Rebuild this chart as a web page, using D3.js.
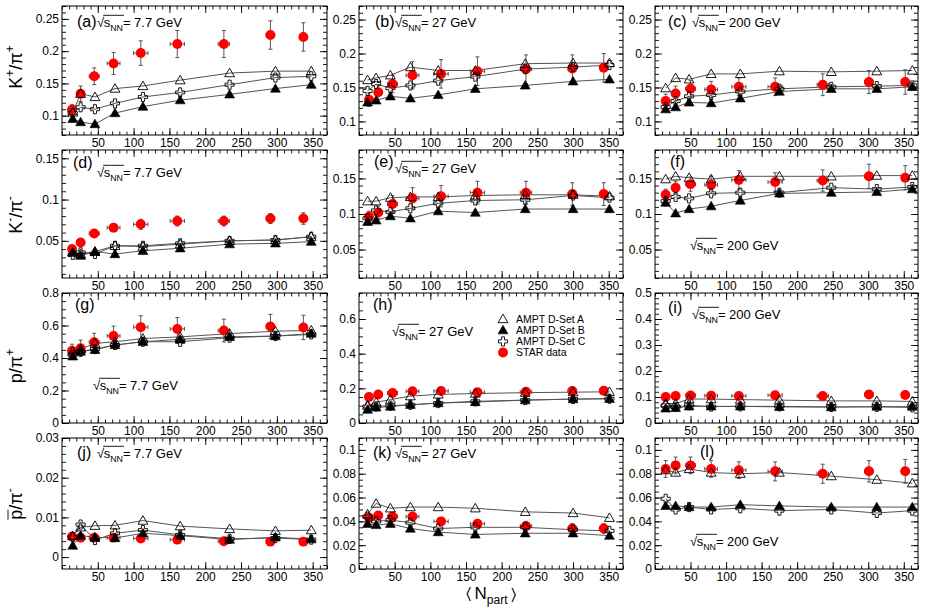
<!DOCTYPE html>
<html><head><meta charset="utf-8">
<script src="https://cdnjs.cloudflare.com/ajax/libs/d3/7.8.5/d3.min.js"></script>
<style>
body{margin:0;background:#fff}
svg{display:block}
text{font-family:"Liberation Sans",Arial,Helvetica,sans-serif}
</style>
</head><body>
<svg id="c" width="926" height="608"></svg>
<script>
// ---------------- DATA ----------------
const energies = ["7.7", "27", "200"];
const npartStar77 = [14, 26, 45, 72, 110, 161, 226, 291, 337];
const npartStar27 = [14, 27, 47, 75, 115, 166, 234, 299, 343];
const npartStar200 = [15, 29, 50, 79, 118, 169, 236, 301, 352];
const npartErr = [3, 5, 7, 9, 10, 10, 8, 6, 2];
const npartAmpt77 = [15, 26, 46, 74, 113, 165, 234, 298, 348];
const npartAmpt27 = [12, 24, 44, 72, 111, 163, 233, 300, 351];
const npartAmpt200 = [15, 29, 48, 79, 120, 175, 248, 312, 362];

const xTickLabels = [50, 100, 150, 200, 250, 300, 350];

// K+/pi+
const a_star = [0.109, 0.134, 0.161, 0.181, 0.197, 0.211, 0.211, 0.225, 0.222];
const a_err  = [0.008, 0.012, 0.013, 0.017, 0.019, 0.021, 0.021, 0.022, 0.022];
const a_A = [0.105, 0.134, 0.129, 0.142, 0.146, 0.155, 0.166, 0.169, 0.169];
const a_B = [0.095, 0.090, 0.087, 0.104, 0.114, 0.124, 0.133, 0.142, 0.148];
const a_C = [0.104, 0.113, 0.110, 0.119, 0.129, 0.136, 0.148, 0.159, 0.161];
const b_star = [0.132, 0.143, 0.155, 0.168, 0.170, 0.174, 0.177, 0.178, 0.179];
const b_err  = [0.010, 0.011, 0.013, 0.020, 0.021, 0.021, 0.021, 0.020, 0.021];
const b_A = [0.161, 0.164, 0.168, 0.180, 0.175, 0.175, 0.185, 0.186, 0.186];
const b_B = [0.128, 0.131, 0.137, 0.134, 0.139, 0.148, 0.153, 0.159, 0.162];
const b_C = [0.145, 0.155, 0.149, 0.153, 0.160, 0.166, 0.177, 0.180, 0.183];
const c_star = [0.130, 0.141, 0.148, 0.147, 0.151, 0.151, 0.154, 0.158, 0.158];
const c_err  = [0.010, 0.011, 0.012, 0.012, 0.013, 0.013, 0.016, 0.017, 0.018];
const c_A = [0.149, 0.164, 0.162, 0.170, 0.170, 0.174, 0.173, 0.174, 0.175];
const c_B = [0.118, 0.121, 0.128, 0.127, 0.134, 0.144, 0.148, 0.148, 0.151];
const c_C = [0.121, 0.130, 0.137, 0.139, 0.144, 0.148, 0.151, 0.152, 0.153];
// K-/pi-
const d_star = [0.040, 0.048, 0.059, 0.066, 0.070, 0.074, 0.074, 0.077, 0.077];
const d_err  = [0.003, 0.004, 0.004, 0.005, 0.006, 0.006, 0.006, 0.006, 0.007];
const d_A = [0.036, 0.034, 0.037, 0.044, 0.043, 0.046, 0.050, 0.051, 0.055];
const d_B = [0.036, 0.032, 0.037, 0.034, 0.038, 0.041, 0.046, 0.047, 0.049];
const d_C = [0.033, 0.036, 0.034, 0.044, 0.044, 0.047, 0.050, 0.051, 0.055];
const e_star = [0.096, 0.102, 0.114, 0.122, 0.125, 0.130, 0.130, 0.128, 0.128];
const e_err  = [0.008, 0.009, 0.012, 0.015, 0.015, 0.016, 0.016, 0.016, 0.016];
const e_A = [0.118, 0.118, 0.123, 0.124, 0.124, 0.126, 0.127, 0.127, 0.125];
const e_B = [0.089, 0.091, 0.097, 0.094, 0.104, 0.102, 0.107, 0.107, 0.107];
const e_C = [0.094, 0.105, 0.103, 0.108, 0.115, 0.119, 0.120, 0.126, 0.123];
const f_star = [0.127, 0.137, 0.142, 0.141, 0.148, 0.145, 0.147, 0.153, 0.151];
const f_err  = [0.008, 0.009, 0.010, 0.012, 0.013, 0.013, 0.015, 0.017, 0.017];
const f_A = [0.149, 0.153, 0.151, 0.149, 0.153, 0.153, 0.153, 0.154, 0.154];
const f_B = [0.116, 0.101, 0.107, 0.111, 0.119, 0.129, 0.130, 0.131, 0.135];
const f_C = [0.118, 0.124, 0.122, 0.129, 0.130, 0.130, 0.137, 0.135, 0.138];
// p/pi+
const g_star = [0.445, 0.460, 0.497, 0.536, 0.590, 0.579, 0.569, 0.594, 0.588];
const g_err  = [0.040, 0.050, 0.055, 0.060, 0.070, 0.070, 0.070, 0.075, 0.075];
const g_A = [0.440, 0.455, 0.490, 0.500, 0.520, 0.530, 0.550, 0.565, 0.570];
const g_B = [0.410, 0.440, 0.450, 0.480, 0.500, 0.515, 0.530, 0.535, 0.550];
const g_C = [0.420, 0.440, 0.455, 0.480, 0.500, 0.500, 0.525, 0.535, 0.545];
const h_star = [0.150, 0.165, 0.173, 0.183, 0.185, 0.177, 0.180, 0.185, 0.186];
const h_err  = [0.010, 0.010, 0.011, 0.012, 0.012, 0.012, 0.013, 0.013, 0.013];
const h_A = [0.100, 0.120, 0.135, 0.155, 0.165, 0.170, 0.175, 0.178, 0.180];
const h_B = [0.077, 0.090, 0.095, 0.105, 0.115, 0.121, 0.132, 0.138, 0.140];
const h_C = [0.095, 0.095, 0.100, 0.105, 0.115, 0.125, 0.132, 0.138, 0.140];
const i_star = [0.100, 0.104, 0.106, 0.105, 0.104, 0.107, 0.104, 0.110, 0.108];
const i_err  = [0.004, 0.004, 0.004, 0.004, 0.004, 0.004, 0.004, 0.004, 0.004];
const i_A = [0.075, 0.075, 0.092, 0.092, 0.090, 0.088, 0.085, 0.085, 0.083];
const i_B = [0.056, 0.058, 0.064, 0.064, 0.064, 0.062, 0.061, 0.063, 0.063];
const i_C = [0.068, 0.062, 0.068, 0.063, 0.064, 0.064, 0.062, 0.062, 0.060];
// pbar/pi-
const j_star = [0.0052, 0.0049, 0.0049, 0.0049, 0.0047, 0.0044, 0.0040, 0.0039, 0.0039];
const j_err  = [0.0004, 0.0004, 0.0004, 0.0004, 0.0004, 0.0004, 0.0004, 0.0004, 0.0004];
const j_A = [0.0053, 0.0075, 0.0079, 0.0080, 0.0092, 0.0078, 0.0071, 0.0066, 0.0068];
const j_B = [0.0029, 0.0054, 0.0050, 0.0048, 0.0060, 0.0054, 0.0044, 0.0050, 0.0045];
const j_C = [0.0050, 0.0082, 0.0043, 0.0060, 0.0068, 0.0056, 0.0046, 0.0048, 0.0044];
const k_star = [0.043, 0.045, 0.044, 0.044, 0.040, 0.038, 0.036, 0.034, 0.034];
const k_err  = [0.003, 0.003, 0.003, 0.003, 0.003, 0.003, 0.004, 0.004, 0.004];
const k_A = [0.046, 0.055, 0.051, 0.052, 0.052, 0.051, 0.048, 0.047, 0.043];
const k_B = [0.038, 0.037, 0.038, 0.034, 0.031, 0.029, 0.030, 0.030, 0.028];
const k_C = [0.044, 0.040, 0.041, 0.039, 0.034, 0.035, 0.035, 0.033, 0.032];
const l_star = [0.084, 0.087, 0.087, 0.084, 0.083, 0.082, 0.080, 0.082, 0.082];
const l_err  = [0.007, 0.007, 0.007, 0.007, 0.007, 0.008, 0.008, 0.009, 0.010];
const l_A = [0.083, 0.081, 0.084, 0.081, 0.080, 0.081, 0.078, 0.075, 0.072];
const l_B = [0.053, 0.053, 0.052, 0.052, 0.054, 0.053, 0.052, 0.052, 0.052];
const l_C = [0.059, 0.050, 0.052, 0.050, 0.051, 0.049, 0.050, 0.047, 0.049];

// y tick labels
const yTicksRow1 = [0.1, 0.15, 0.2, 0.25];
const yTicksRow2 = [0.05, 0.1, 0.15];
const yTicksG = [0, 0.2, 0.4, 0.6, 0.8];
const yTicksH = [0, 0.2, 0.4, 0.6];
const yTicksI = [0, 0.1, 0.2, 0.3, 0.4, 0.5];
const yTicksJ = [0, 0.01, 0.02, 0.03];
const yTicksKL = [0, 0.02, 0.04, 0.06, 0.08, 0.1];

const legendLabels = ["AMPT D-Set A", "AMPT D-Set B", "AMPT D-Set C", "STAR data"];

// ---------------- LAYOUT ----------------
const svg = d3.select('#c');
const colX = [[62, 327], [359, 623], [655, 918]];
const rowY = [[6, 135], [150, 278], [293, 423], [438, 569]];
const xDomain = [0, 370];
const FONT = '"Liberation Sans",Arial,Helvetica,sans-serif';

const npS = [npartStar77, npartStar27, npartStar200];
const npA = [npartAmpt77, npartAmpt27, npartAmpt200];

const panels = [
  {lab:'(a)', r:0, c:0, dom:[0.07,0.27], ticks:yTicksRow1, minor:0.01, star:a_star, err:a_err, A:a_A, B:a_B, C:a_C, lp:[15,21], tp:[35,21]},
  {lab:'(b)', r:0, c:1, dom:[0.08,0.27], ticks:yTicksRow1, minor:0.01, star:b_star, err:b_err, A:b_A, B:b_B, C:b_C, lp:[16,21], tp:[36,21]},
  {lab:'(c)', r:0, c:2, dom:[0.08,0.27], ticks:yTicksRow1, minor:0.01, star:c_star, err:c_err, A:c_A, B:c_B, C:c_C, lp:[13,21], tp:[37,21]},
  {lab:'(d)', r:1, c:0, dom:[0.005,0.16], ticks:yTicksRow2, minor:0.01, star:d_star, err:d_err, A:d_A, B:d_B, C:d_C, lp:[11,18], tp:[35,27]},
  {lab:'(e)', r:1, c:1, dom:[0.01,0.19], ticks:yTicksRow2, minor:0.01, star:e_star, err:e_err, A:e_A, B:e_B, C:e_C, lp:[15,17], tp:[36,23]},
  {lab:'(f)', r:1, c:2, dom:[0.01,0.19], ticks:yTicksRow2, minor:0.01, star:f_star, err:f_err, A:f_A, B:f_B, C:f_C, lp:[15,17], tp:[35,100]},
  {lab:'(g)', r:2, c:0, dom:[0,0.8], ticks:yTicksG, minor:0.05, star:g_star, err:g_err, A:g_A, B:g_B, C:g_C, lp:[13,17], tp:[31,97]},
  {lab:'(h)', r:2, c:1, dom:[0,0.75], ticks:yTicksH, minor:0.05, star:h_star, err:h_err, A:h_A, B:h_B, C:h_C, lp:[14,17], tp:[33,43], legend:true},
  {lab:'(i)', r:2, c:2, dom:[0,0.5], ticks:yTicksI, minor:0.02, star:i_star, err:i_err, A:i_A, B:i_B, C:i_C, lp:[13,20], tp:[37,26]},
  {lab:'(j)', r:3, c:0, dom:[-0.003,0.03], ticks:yTicksJ, minor:0.002, star:j_star, err:j_err, A:j_A, B:j_B, C:j_C, lp:[15,20], tp:[35,20]},
  {lab:'(k)', r:3, c:1, dom:[0,0.11], ticks:yTicksKL, minor:0.005, star:k_star, err:k_err, A:k_A, B:k_B, C:k_C, lp:[14,20], tp:[36,20]},
  {lab:'(l)', r:3, c:2, dom:[0,0.11], ticks:yTicksKL, minor:0.005, star:l_star, err:l_err, A:l_A, B:l_B, C:l_C, lp:[45,19], tp:[35,108]},
];

function richText(parent, x, y, parts, opts) {
  opts = opts || {};
  const outer = parent.append('g').attr('transform', `translate(${x},${y})` + (opts.rotate ? ` rotate(${opts.rotate})` : ''));
  const inner = outer.append('g');
  let cx = 0;
  parts.forEach(p => {
    const t = inner.append('text').attr('x', cx).attr('y', p.dy || 0)
      .attr('font-size', p.size).attr('font-family', FONT).attr('fill', '#000').text(p.t);
    const w = t.node().getComputedTextLength();
    if (p.over) {
      inner.append('line').attr('x1', cx + p.over[0]).attr('x2', cx + w + p.over[1])
        .attr('y1', p.over[2]).attr('y2', p.over[2]).attr('stroke', '#000').attr('stroke-width', 0.9);
    }
    cx += w + (p.gap || 0);
  });
  if (opts.anchor === 'middle') inner.attr('transform', `translate(${-cx / 2},0)`);
  return cx;
}

function sqrtLabel(parent, x, y, energy) {
  const s = 13;
  richText(parent, x, y, [
    {t: '\u221A', size: s, gap: -0.5},
    {t: 's', size: s, over: [-0.5, 0, -s * 0.9]},
    {t: 'NN', size: s * 0.68, dy: s * 0.28, over: [0, 1, -s * 0.9]},
    {t: ' = ' + energy + ' GeV', size: s}
  ]);
}

const symTriOpen = d3.symbol().type(d3.symbolTriangle).size(42);
const symCross = d3.symbol().type(d3.symbolCross).size(46);
const symCircle = d3.symbol().type(d3.symbolCircle).size(78);

function drawMarker(g, kind, cx, cy) {
  if (kind === 'A') g.append('path').attr('d', symTriOpen()).attr('transform', `translate(${cx},${cy + 0.8})`)
      .attr('fill', 'none').attr('stroke', '#000').attr('stroke-width', 0.9);
  else if (kind === 'B') g.append('path').attr('d', symTriOpen()).attr('transform', `translate(${cx},${cy + 0.8})`)
      .attr('fill', '#000').attr('stroke', '#000').attr('stroke-width', 0.6);
  else if (kind === 'C') g.append('path').attr('d', symCross()).attr('transform', `translate(${cx},${cy})`)
      .attr('fill', 'none').attr('stroke', '#000').attr('stroke-width', 0.9);
  else g.append('path').attr('d', symCircle()).attr('transform', `translate(${cx},${cy})`).attr('fill', '#ff0000');
}

function minorTicks(dom, step) {
  const out = [];
  const start = Math.ceil(dom[0] / step - 1e-9);
  const end = Math.floor(dom[1] / step + 1e-9);
  for (let i = start; i <= end; i++) out.push(+(i * step).toFixed(6));
  return out;
}

panels.forEach((p, pi) => {
  const [x0, x1] = colX[p.c], [y0, y1] = rowY[p.r];
  const x = d3.scaleLinear().domain(xDomain).range([x0, x1]);
  const y = d3.scaleLinear().domain(p.dom).range([y1, y0]);
  const g = svg.append('g');
  const clipId = 'clip' + pi;
  svg.append('clipPath').attr('id', clipId).append('rect').attr('x', x0).attr('y', y0).attr('width', x1 - x0).attr('height', y1 - y0);

  const fmt = d => String(d);
  const xMin = minorTicks(xDomain, 10);
  const yMin = minorTicks(p.dom, p.minor);
  const axes = [
    g.append('g').attr('transform', `translate(0,${y1})`).call(d3.axisBottom(x).tickValues(xTickLabels).tickSize(-7).tickSizeOuter(0).tickPadding(3).tickFormat(fmt)),
    g.append('g').attr('transform', `translate(0,${y1})`).call(d3.axisBottom(x).tickValues(xMin).tickSize(-3.5).tickSizeOuter(0).tickFormat('')),
    g.append('g').attr('transform', `translate(0,${y0})`).call(d3.axisTop(x).tickValues(xTickLabels).tickSize(-7).tickSizeOuter(0).tickFormat('')),
    g.append('g').attr('transform', `translate(0,${y0})`).call(d3.axisTop(x).tickValues(xMin).tickSize(-3.5).tickSizeOuter(0).tickFormat('')),
    g.append('g').attr('transform', `translate(${x0},0)`).call(d3.axisLeft(y).tickValues(p.ticks).tickSize(-7).tickSizeOuter(0).tickPadding(3).tickFormat(fmt)),
    g.append('g').attr('transform', `translate(${x0},0)`).call(d3.axisLeft(y).tickValues(yMin).tickSize(-4).tickSizeOuter(0).tickFormat('')),
    g.append('g').attr('transform', `translate(${x1},0)`).call(d3.axisRight(y).tickValues(p.ticks).tickSize(-7).tickSizeOuter(0).tickFormat('')),
    g.append('g').attr('transform', `translate(${x1},0)`).call(d3.axisRight(y).tickValues(yMin).tickSize(-4).tickSizeOuter(0).tickFormat('')),
  ];
  axes.forEach(a => {
    a.select('.domain').remove();
    a.attr('font-size', 12).attr('font-family', FONT);
    a.selectAll('line').attr('stroke', '#000').attr('stroke-width', 0.9);
    a.selectAll('text').attr('fill', '#000');
  });
  g.append('rect').attr('x', x0).attr('y', y0).attr('width', x1 - x0).attr('height', y1 - y0)
    .attr('fill', 'none').attr('stroke', '#000').attr('stroke-width', 1);

  const xs = npS[p.c], xa = npA[p.c];
  const plot = g.append('g').attr('clip-path', `url(#${clipId})`);
  const line = d3.line().x(d => x(d[0])).y(d => y(d[1]));
  [p.A, p.B, p.C].forEach(arr => {
    plot.append('path').attr('d', line(xa.map((v, i) => [v, arr[i]])))
      .attr('fill', 'none').attr('stroke', '#555').attr('stroke-width', 1);
  });
  p.star.forEach((v, i) => {
    const cx = x(xs[i]), cy = y(v);
    const ex1 = x(xs[i] - npartErr[i]), ex2 = x(xs[i] + npartErr[i]);
    const ey1 = y(v - p.err[i]), ey2 = y(v + p.err[i]);
    const eb = plot.append('g').attr('stroke', '#444').attr('stroke-width', 0.9);
    eb.append('line').attr('x1', cx).attr('x2', cx).attr('y1', ey1).attr('y2', ey2);
    eb.append('line').attr('x1', cx - 2).attr('x2', cx + 2).attr('y1', ey1).attr('y2', ey1);
    eb.append('line').attr('x1', cx - 2).attr('x2', cx + 2).attr('y1', ey2).attr('y2', ey2);
    eb.append('line').attr('x1', ex1).attr('x2', ex2).attr('y1', cy).attr('y2', cy);
    eb.append('line').attr('x1', ex1).attr('x2', ex1).attr('y1', cy - 2).attr('y2', cy + 2);
    eb.append('line').attr('x1', ex2).attr('x2', ex2).attr('y1', cy - 2).attr('y2', cy + 2);
  });
  p.star.forEach((v, i) => drawMarker(plot, 'S', x(xs[i]), y(v)));
  ['B', 'C', 'A'].forEach(k => p[k].forEach((v, i) => drawMarker(plot, k, x(xa[i]), y(v))));

  g.append('text').attr('x', x0 + p.lp[0]).attr('y', y0 + p.lp[1]).attr('font-size', 16)
    .attr('font-family', FONT).text(p.lab);
  sqrtLabel(g, x0 + p.tp[0], y0 + p.tp[1], energies[p.c]);

  if (p.legend) {
    const kinds = ['A', 'B', 'C', 'S'];
    const lx = x0 + 144, ly = y0 + 26, dy = 11.2;
    kinds.forEach((k, i) => {
      drawMarker(g, k, lx, ly + i * dy);
      g.append('text').attr('x', lx + 13).attr('y', ly + i * dy + 3.8).attr('font-size', 10.5)
        .attr('font-family', FONT).text(legendLabels[i]);
    });
  }
});

// Y axis titles
const ts = 18, sup = 12;
const yTitleX = 22;
const rowMid = [67, 215, 366, 504];
richText(svg, yTitleX, rowMid[0], [
  {t: 'K', size: ts}, {t: '+', size: sup, dy: -8}, {t: '/', size: ts}, {t: '\u03C0', size: ts}, {t: '+', size: sup, dy: -8}
], {rotate: -90, anchor: 'middle'});
richText(svg, yTitleX, rowMid[1], [
  {t: 'K', size: ts}, {t: '-', size: sup, dy: -8}, {t: '/', size: ts}, {t: '\u03C0', size: ts}, {t: '-', size: sup, dy: -8}
], {rotate: -90, anchor: 'middle'});
richText(svg, yTitleX, rowMid[2], [
  {t: 'p', size: ts}, {t: '/', size: ts}, {t: '\u03C0', size: ts}, {t: '+', size: sup, dy: -8}
], {rotate: -90, anchor: 'middle'});
richText(svg, yTitleX, rowMid[3], [
  {t: 'p', size: ts, over: [0, 0, -14]}, {t: '/', size: ts}, {t: '\u03C0', size: ts}, {t: '-', size: sup, dy: -8}
], {rotate: -90, anchor: 'middle'});

// X axis title
richText(svg, 491, 599, [
  {t: '\u2329', size: 16, gap: 4}, {t: 'N', size: 17}, {t: 'part', size: 12, dy: 5, gap: 4}, {t: '\u232A', size: 16}
], {anchor: 'middle'});
</script>
</body></html>
